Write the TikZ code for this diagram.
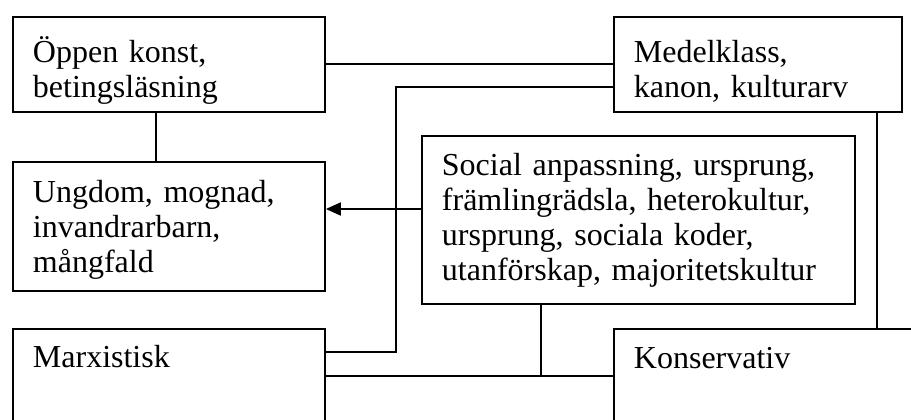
\documentclass[tikz,border=0pt]{standalone}
\usepackage{fontspec}
\setmainfont{Liberation Serif}
\usetikzlibrary{arrows.meta,positioning}

\begin{document}
\begin{tikzpicture}[x=0.4pt,y=-0.4pt,
  box/.style={draw,line width=0.75pt,anchor=north west,align=left,
    inner xsep=8pt,inner ysep=0pt,font=\fontsize{12.8}{14}\selectfont},
  link/.style={line width=0.75pt},
  pil/.style={link,-{Triangle[length=6pt,width=5.2pt]}}]

\path[use as bounding box,clip] (0,0) rectangle (911,419);

\node[box,text width=108.8pt,text height=18.4pt,text depth=19.6pt] (oppen)   at (12,16)   {Öppen konst,\\betingsläsning};
\node[box,text width=99.2pt,text height=18.4pt,text depth=19.6pt]  (medel)   at (613,16)  {Medelklass,\\kanon, kulturarv};
\node[box,text width=108.8pt,text height=16.4pt,text depth=35.2pt] (ungdom)  at (12,161)  {Ungdom, mognad,\\invandrarbarn,\\mångfald};
\node[box,text width=157.2pt,text height=16pt,text depth=51.2pt]   (social)  at (421,135) {Social anpassning, ursprung,\\främlingrädsla, heterokultur,\\ursprung, sociala koder,\\utanförskap,~majoritetskultur};
\node[box,text width=108.8pt,text height=15.6pt,text depth=40pt]   (marx)    at (12,328)  {Marxistisk};
\node[box,text width=120pt,text height=16pt,text depth=40pt]       (konserv) at (613,328) {Konservativ};

% knee points of the connectors
\coordinate (c1) at (156,135);
\coordinate (k1) at (396,87);
\coordinate (k2) at (396,352);
\coordinate (pa) at (372,209);
\coordinate (j1) at (541,376);
\coordinate (r1) at (877,220);

\path[link]
    (oppen)  edge (medel)
    (oppen.south -| c1) edge (ungdom.north -| c1)
    (medel.south -| r1) edge (konserv.north -| r1);

\draw[link] (medel.west |- k1) -- (k1) -- (k2) -- (marx.east |- k2);
\draw[link] (social.south -| j1) -- (j1);
\draw[link] (marx.east |- j1) -- (konserv.west |- j1);
\draw[pil] (social.west |- pa) -- (ungdom.east |- pa);
\end{tikzpicture}
\end{document}
